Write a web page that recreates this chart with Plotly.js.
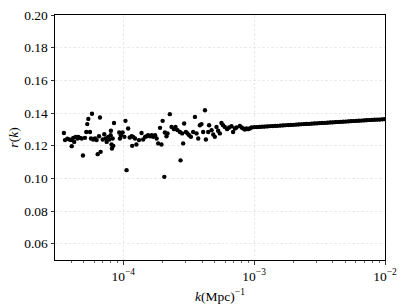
<!DOCTYPE html>
<html>
<head>
<meta charset="utf-8">
<script src="https://cdn.plot.ly/plotly-3.0.1.min.js"></script>
<style>html,body{margin:0;padding:0;background:#fff;}#chart{width:407px;height:305px;}</style>
</head>
<body>
<div id="chart"></div>
<script>
// scattered low-k estimates
const kScatter = [
  3.52e-5,3.59e-5,3.74e-5,3.88e-5,3.99e-5,4.04e-5,4.15e-5,4.22e-5,4.33e-5,4.46e-5,
  4.53e-5,4.67e-5,4.81e-5,4.92e-5,5.10e-5,5.22e-5,5.31e-5,5.41e-5,5.57e-5,5.67e-5,
  5.77e-5,5.90e-5,6.08e-5,6.26e-5,6.38e-5,6.53e-5,6.64e-5,6.72e-5,6.97e-5,7.16e-5,
  7.34e-5,7.47e-5,7.68e-5,7.82e-5,8.01e-5,8.50e-5,8.05e-5,8.30e-5,8.14e-5,8.39e-5,
  8.20e-5,9.32e-5,9.60e-5,9.89e-5,1.02e-4,9.43e-5,1.04e-4,1.09e-4,1.12e-4,1.16e-4,
  1.19e-4,1.23e-4,1.17e-4,1.26e-4,1.32e-4,1.38e-4,1.42e-4,1.47e-4,1.51e-4,1.55e-4,
  1.60e-4,1.65e-4,1.69e-4,1.75e-4,1.80e-4,1.85e-4,1.91e-4,1.96e-4,2.00e-4,2.08e-4,
  2.14e-4,1.06e-4,2.06e-4,2.74e-4,
  2.27e-4,2.18e-4,2.34e-4,2.44e-4,2.51e-4,2.60e-4,2.71e-4,2.82e-4,2.87e-4,2.92e-4,
  3.01e-4,3.10e-4,3.19e-4,3.29e-4,3.42e-4,3.53e-4,3.63e-4,3.74e-4,3.85e-4,3.96e-4,
  4.08e-4,4.21e-4,4.28e-4,4.46e-4,4.53e-4,4.73e-4,4.87e-4,5.01e-4,5.16e-4,5.31e-4,
  5.47e-4,5.63e-4,5.79e-4,5.97e-4,6.22e-4,6.44e-4,6.72e-4,6.91e-4,7.13e-4,7.34e-4,
  7.78e-4,8.02e-4,8.25e-4,8.50e-4,8.75e-4,9.00e-4,9.27e-4,9.55e-4
];
const rScatter = [
  0.1278,0.1234,0.1242,0.1238,0.1234,0.1197,0.1248,0.1223,0.1254,0.1244,
  0.1254,0.1248,0.1244,0.1140,0.1248,0.1284,0.1332,0.1364,0.1284,0.1244,
  0.1395,0.1238,0.1244,0.1234,0.1148,0.1258,0.1372,0.1162,0.1238,0.1270,
  0.1244,0.1223,0.1254,0.1238,0.1264,0.1339,0.1291,0.1244,0.1207,0.1199,
  0.1183,0.1281,0.1264,0.1281,0.1254,0.1244,0.1352,0.1305,0.1250,0.1258,
  0.1254,0.1244,0.1199,0.1207,0.1234,0.1278,0.1238,0.1254,0.1258,0.1264,
  0.1258,0.1264,0.1254,0.1264,0.1244,0.1214,0.1309,0.1207,0.1352,0.1281,
  0.1258,0.1050,0.1009,0.1110,
  0.1393,0.1275,0.1315,0.1301,0.1315,0.1295,0.1284,0.1275,0.1214,0.1336,
  0.1284,0.1275,0.1264,0.1254,0.1284,0.1376,0.1275,0.1244,0.1325,0.1332,
  0.1284,0.1417,0.1238,0.1284,0.1325,0.1295,0.1268,0.1254,0.1315,0.1291,
  0.1275,0.1339,0.1325,0.1315,0.1301,0.1311,0.1319,0.1284,0.1305,0.1311,
  0.1321,0.1311,0.1305,0.1299,0.1305,0.1301,0.1305,0.1311
];
// dense high-k estimates
const kDense = [
  1.00e-3,1.05e-3,1.10e-3,1.15e-3,1.20e-3,1.26e-3,1.32e-3,1.38e-3,1.45e-3,1.51e-3,
  1.58e-3,1.66e-3,1.74e-3,1.82e-3,1.91e-3,2.00e-3,2.09e-3,2.19e-3,2.29e-3,2.40e-3,
  2.51e-3,2.63e-3,2.75e-3,2.88e-3,3.02e-3,3.16e-3,3.31e-3,3.47e-3,3.63e-3,3.80e-3,
  3.98e-3,4.17e-3,4.37e-3,4.57e-3,4.79e-3,5.01e-3,5.25e-3,5.50e-3,5.75e-3,6.03e-3,
  6.31e-3,6.61e-3,6.92e-3,7.24e-3,7.59e-3,7.94e-3,8.32e-3,8.71e-3,9.12e-3,9.55e-3,1.00e-2
];
const rDense = [
  0.1313,0.1314,0.1315,0.1316,0.1317,0.1318,0.1319,0.1320,0.1321,0.1322,
  0.1323,0.1324,0.1325,0.1326,0.1327,0.1328,0.1329,0.1330,0.1331,0.1332,
  0.1333,0.1334,0.1335,0.1336,0.1337,0.1338,0.1339,0.1340,0.1341,0.1342,
  0.1343,0.1344,0.1345,0.1346,0.1347,0.1348,0.1349,0.1350,0.1351,0.1352,
  0.1353,0.1354,0.1355,0.1356,0.1357,0.1358,0.1359,0.1360,0.1360,0.1361,0.1362
];
const xTickVals = [1e-4, 1e-3, 1e-2];
const xTickText = ['10<sup>−4</sup>', '10<sup>−3</sup>', '10<sup>−2</sup>'];
const xMinorVals = [3e-5,4e-5,5e-5,6e-5,7e-5,8e-5,9e-5,2e-4,3e-4,4e-4,5e-4,6e-4,7e-4,8e-4,9e-4,2e-3,3e-3,4e-3,5e-3,6e-3,7e-3,8e-3,9e-3];
const yTickVals = [0.06,0.08,0.10,0.12,0.14,0.16,0.18,0.20];
const yTickText = ['0.06','0.08','0.10','0.12','0.14','0.16','0.18','0.20'];

const font = {family: 'Liberation Serif, DejaVu Serif, serif', size: 13.5, color: '#000'};
const traces = [
  {x: kScatter, y: rScatter, type: 'scatter', mode: 'markers',
   marker: {color: '#000', size: 4.4}, hoverinfo: 'skip'},
  {x: kDense, y: rDense, type: 'scatter', mode: 'lines+markers',
   line: {color: '#000', width: 3.6}, marker: {color: '#000', size: 4.2}, hoverinfo: 'skip'}
];
const layout = {
  width: 407, height: 305,
  margin: {l: 55, r: 22, t: 15, b: 45},
  paper_bgcolor: '#fff', plot_bgcolor: '#fff',
  showlegend: false,
  font: font,
  xaxis: {
    type: 'log', range: [Math.log10(3.01e-5), -2],
    tickmode: 'array', tickvals: xTickVals, ticktext: xTickText,
    ticks: 'outside', ticklen: 3.5, tickwidth: 0.8, tickcolor: '#000',
    minor: {tickmode: 'array', tickvals: xMinorVals, ticks: 'outside', ticklen: 2, tickwidth: 0.6, tickcolor: '#000', showgrid: false},
    showline: true, linecolor: '#000', linewidth: 1, mirror: true,
    showgrid: true, gridcolor: '#e4e4e4', griddash: '2.5px,2px', gridwidth: 0.8,
    zeroline: false,
    title: {text: '<i>k</i>(Mpc)<sup>−1</sup>', font: font, standoff: 8}
  },
  yaxis: {
    range: [0.05, 0.20],
    tickmode: 'array', tickvals: yTickVals, ticktext: yTickText,
    ticks: 'outside', ticklen: 3.5, tickwidth: 0.8, tickcolor: '#000',
    showline: true, linecolor: '#000', linewidth: 1, mirror: true,
    showgrid: true, gridcolor: '#e4e4e4', griddash: '2.5px,2px', gridwidth: 0.8,
    zeroline: false,
    title: {text: '<i>r</i>(<i>k</i>)', font: font, standoff: 2}
  }
};
Plotly.newPlot('chart', traces, layout, {staticPlot: true, displayModeBar: false});
</script>
</body>
</html>
